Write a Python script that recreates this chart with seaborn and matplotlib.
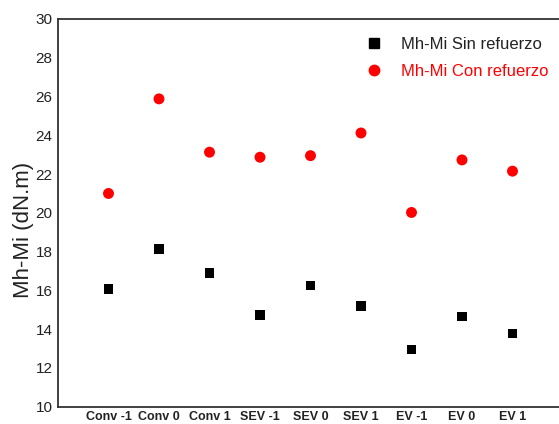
import matplotlib
matplotlib.use("Agg")
import matplotlib.pyplot as plt
import seaborn as sns
import pandas as pd
from matplotlib.lines import Line2D

categories = ["Conv -1", "Conv 0", "Conv 1", "SEV -1", "SEV 0", "SEV 1", "EV -1", "EV 0", "EV 1"]
sin_refuerzo = [16.08, 18.13, 16.89, 14.74, 16.24, 15.19, 12.96, 14.66, 13.78]
con_refuerzo = [21.0, 25.88, 23.13, 22.87, 22.95, 24.12, 20.02, 22.73, 22.15]
series_names = ["Mh-Mi Sin refuerzo", "Mh-Mi Con refuerzo"]
y_ticks = [10, 12, 14, 16, 18, 20, 22, 24, 26, 28, 30]

sns.set_style("white")
plt.rcParams["font.family"] = ["Liberation Sans", "DejaVu Sans"]

df = pd.DataFrame({
    "cat": categories * 2,
    "x": list(range(len(categories))) * 2,
    "val": sin_refuerzo + con_refuerzo,
    "serie": [series_names[0]] * len(categories) + [series_names[1]] * len(categories),
})

fig = plt.figure(figsize=(5.59, 4.24), dpi=100)
ax = fig.add_axes([58 / 559, (424 - 406.7) / 424, (563 - 58) / 559, (406.7 - 19) / 424])

sns.scatterplot(data=df[df.serie == series_names[0]], x="x", y="val", color="black",
                marker="s", s=46, edgecolor="none", ax=ax, legend=False)
sns.scatterplot(data=df[df.serie == series_names[1]], x="x", y="val", color="#ff0000",
                marker="o", s=62, edgecolor="none", ax=ax, legend=False)

ax.set_xlim(-1, 9)
ax.set_ylim(10, 30)
ax.set_xticks(range(len(categories)))
ax.set_xticklabels(categories, fontsize=9, fontweight="bold", color="#222222")
ax.set_yticks(y_ticks)
ax.set_yticklabels([str(t) for t in y_ticks], fontsize=11, color="#222222")
ax.tick_params(axis="both", length=0)
ax.tick_params(axis="x", pad=3)
ax.tick_params(axis="y", pad=4)
ax.set_xlabel("")
ax.set_ylabel("Mh-Mi (dN.m)", fontsize=16, color="#222222")
ax.yaxis.set_label_coords(-0.048, 0.456)

for side in ["left", "bottom", "top"]:
    ax.spines[side].set_visible(True)
    ax.spines[side].set_color("#333333")
    ax.spines[side].set_linewidth(1.3)
ax.spines["right"].set_visible(False)

handles = [
    Line2D([], [], marker="s", color="black", linestyle="none", markersize=6.5),
    Line2D([], [], marker="o", color="#ff0000", linestyle="none", markersize=7.5),
]
leg = ax.legend(handles, series_names, loc="upper left", bbox_to_anchor=(0.5625, 0.993),
                frameon=False, fontsize=12, handletextpad=0.62, labelspacing=0.73)
leg.get_texts()[0].set_color("#222222")
leg.get_texts()[1].set_color("#ff0000")

fig.savefig("out.png", dpi=100)
